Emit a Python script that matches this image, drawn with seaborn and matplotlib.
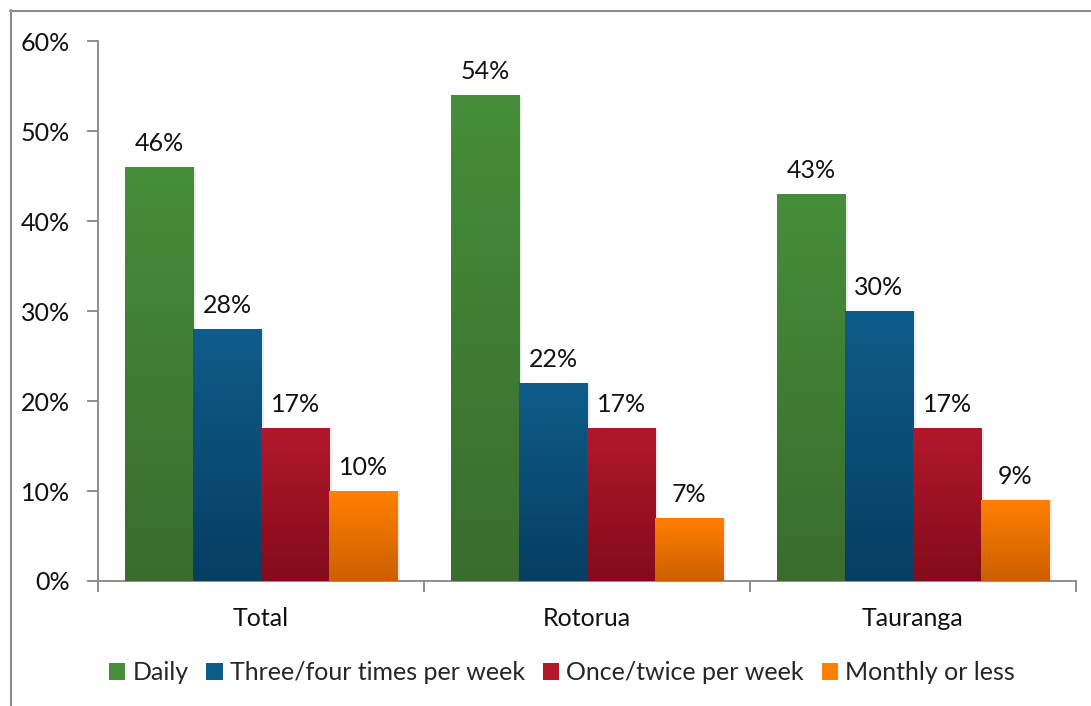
import numpy as np
import pandas as pd
import matplotlib
matplotlib.use("Agg")
import matplotlib.pyplot as plt
from matplotlib.lines import Line2D
from matplotlib.patches import Patch
from matplotlib.colors import LinearSegmentedColormap
import seaborn as sns

# Survey data: how often respondents do the activity, by area (percent)
regions = ["Total", "Rotorua", "Tauranga"]
frequencies = ["Daily", "Three/four times per week", "Once/twice per week", "Monthly or less"]
daily = [46, 54, 43]
three_four = [28, 22, 30]
once_twice = [17, 17, 17]
monthly = [10, 7, 9]
y_ticks = [0, 10, 20, 30, 40, 50, 60]

# Top / bottom colours of each series' vertical gradient
top_colors = ["#468E3A", "#0F5C8A", "#B2182C", "#FF8000"]
bottom_colors = ["#3A6C2E", "#063E61", "#830B1B", "#CC5F00"]

sns.set_theme(style="white")
plt.rcParams["font.family"] = ["Lato", "DejaVu Sans"]

values = [daily, three_four, once_twice, monthly]
df = pd.DataFrame({
    "Region": [r for _ in frequencies for r in regions],
    "Frequency": [f for f in frequencies for _ in regions],
    "Share": [v for series in values for v in series],
})

W, H = 1091, 706
fig = plt.figure(figsize=(W / 100, H / 100), dpi=100)
ax = fig.add_axes([98 / W, 1 - 581 / H, (1076 - 98) / W, (581 - 41) / H])

sns.barplot(data=df, x="Region", y="Share", hue="Frequency", order=regions,
            hue_order=frequencies, palette=top_colors, saturation=1,
            width=0.835, legend=False, ax=ax)

fs = 18
gray = "#868686"

# Gradient fills, soft shadows and value labels
for i, cont in enumerate(ax.containers):
    cmap = LinearSegmentedColormap.from_list(f"g{i}", [bottom_colors[i], top_colors[i]])
    for bar in cont:
        x, w, h = bar.get_x(), bar.get_width(), bar.get_height()
        bar.set_edgecolor("none")
        bar.set_zorder(2)
        grad = np.linspace(0, 1, 256).reshape(-1, 1)
        im = ax.imshow(grad, cmap=cmap, origin="lower", aspect="auto",
                       extent=[x, x + w, 0, h], zorder=3, interpolation="bicubic")
        im.set_clip_path(bar)
        ax.add_patch(plt.Rectangle((x + w, 0), 0.008, h * 0.995, color="#000000",
                                   alpha=0.08, zorder=1, lw=0))
    ax.bar_label(cont, labels=[f"{v:.0f}%" for v in cont.datavalues],
                 padding=9, fontsize=fs, color="#111111", zorder=5)

ax.set_xlim(-0.5, 2.5)
ax.set_ylim(0, 60)
ax.set_yticks(y_ticks)
ax.set_yticklabels([f"{t}%" for t in y_ticks], fontsize=fs, color="#111111")

# Category boundaries as major ticks, names on minor ticks
ax.set_xticks([-0.5, 0.5, 1.5, 2.5])
ax.set_xticklabels([])
ax.set_xticks(range(len(regions)), minor=True)
ax.set_xticklabels(regions, minor=True, fontsize=fs, color="#111111")
ax.tick_params(axis="x", which="major", direction="out", length=8, width=1.3,
               color=gray, bottom=True)
ax.tick_params(axis="x", which="minor", length=0, pad=19)
ax.tick_params(axis="y", direction="out", length=8, width=1.3, color=gray,
               left=True, pad=12)
ax.set_xlabel("")
ax.set_ylabel("")

for side in ["top", "right"]:
    ax.spines[side].set_visible(False)
for side in ["left", "bottom"]:
    ax.spines[side].set_color(gray)
    ax.spines[side].set_linewidth(1.3)

# Legend beneath the plot
handles = [Patch(facecolor=top_colors[i], edgecolor="none") for i in range(4)]
fig.legend(handles, frequencies, loc="center", bbox_to_anchor=(562 / W, 1 - 673 / H),
           ncol=4, frameon=False, fontsize=fs, handlelength=0.65, handleheight=0.65,
           handletextpad=0.3, columnspacing=0.7)

# Outer frame lines
fig.add_artist(Line2D([10.5 / W, 10.5 / W], [0, 1 - 10 / H], color="#8c8c8c", lw=1.5))
fig.add_artist(Line2D([10 / W, 1], [1 - 10.5 / H, 1 - 10.5 / H], color="#8c8c8c", lw=1.5))

fig.savefig("out.png", dpi=100, facecolor="white")
